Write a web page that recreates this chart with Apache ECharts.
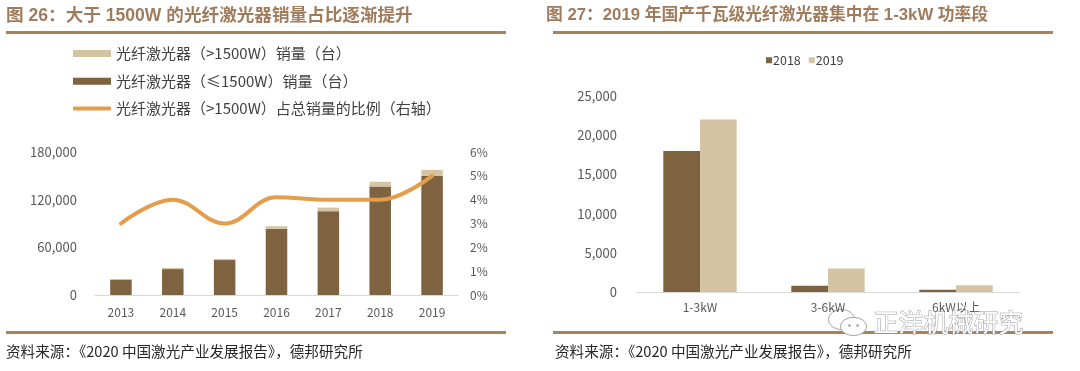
<!DOCTYPE html>
<html><head><meta charset="utf-8">
<script src="https://cdn.jsdelivr.net/npm/echarts@6/dist/echarts.min.js"></script>
<style>html,body{margin:0;padding:0;background:#fff}#c{width:1080px;height:371px}</style>
</head><body><div id="c"></div>
<script>
// Left chart data
const years = ['2013','2014','2015','2016','2017','2018','2019'];
const salesLow = [19400, 32600, 44000, 83200, 105500, 136500, 150000];   // ≤1500W
const salesHigh = [600, 1400, 1400, 3400, 4500, 6000, 7500];            // >1500W
const shareHigh = [3.0, 4.0, 3.0, 4.1, 4.0, 4.0, 5.0];                  // % right axis
// Right chart data
const powerBands = ['1-3kW', '3-6kW', '6kW以上'];
const kw2018 = [18000, 800, 300];
const kw2019 = [22000, 3000, 850];

const DARK = '#7f6240', LIGHT = '#d4c4a3', ORANGE = '#e49d4a', TITLE = '#a07b5c', RULE = '#a7825f';
const FONT = '"Noto Sans CJK SC", "Noto Sans", sans-serif';
const TFONT = '"Liberation Sans", "Noto Sans CJK SC", sans-serif';
const nameHigh = '光纤激光器（>1500W）销量（台）';
const nameLow = '光纤激光器（≤1500W）销量（台）';
const nameShare = '光纤激光器（>1500W）占总销量的比例（右轴）';

const chart = echarts.init(document.getElementById('c'), null, {renderer: 'canvas'});
const axisLabel = {color: '#595959', fontSize: 12, fontFamily: FONT};
const fmt = v => v.toLocaleString('en-US');
const legendText = {color: '#404040', fontSize: 15, lineHeight: 15, fontFamily: FONT};

chart.setOption({
  animation: false,
  textStyle: {fontFamily: FONT},
  title: [
    {text: '图 26：大于 1500W 的光纤激光器销量占比逐渐提升', left: 6, top: 7, padding: 0,
     textStyle: {color: TITLE, fontSize: 17.6, fontWeight: 'bold', fontFamily: TFONT}},
    {text: '图 27：2019 年国产千瓦级光纤激光器集中在 1-3kW 功率段', left: 546, top: 7, padding: 0,
     textStyle: {color: TITLE, fontSize: 16.75, fontWeight: 'bold', fontFamily: TFONT}},
    {text: '资料来源：《2020 中国激光产业发展报告》，德邦研究所', left: 6, top: 344, padding: 0,
     textStyle: {color: '#262626', fontSize: 14.6, fontWeight: 'normal', fontFamily: FONT}},
    {text: '资料来源：《2020 中国激光产业发展报告》，德邦研究所', left: 555, top: 344, padding: 0,
     textStyle: {color: '#262626', fontSize: 14.6, fontWeight: 'normal', fontFamily: FONT}}
  ],
  legend: [
    {orient: 'vertical', left: 73, top: 46, padding: 0, itemWidth: 38, itemHeight: 7, itemGap: 12.7,
     icon: 'rect', data: [nameHigh, nameLow], textStyle: legendText},
    {orient: 'vertical', left: 73, top: 101, padding: 0, itemWidth: 38, itemHeight: 4,
     data: [{name: nameShare, icon: 'roundRect'}], textStyle: legendText},
    {left: 766, top: 54, padding: 0, itemWidth: 6, itemHeight: 6, itemGap: 8, icon: 'rect',
     data: ['2018', '2019'],
     textStyle: {color: '#404040', fontSize: 12.5, fontFamily: FONT, padding: [0,0,0,-4]}}
  ],
  grid: [
    {left: 95, right: 622, top: 152, bottom: 76},
    {left: 636, right: 60, top: 96, bottom: 79}
  ],
  xAxis: [
    {type: 'category', gridIndex: 0, data: years,
     axisLine: {lineStyle: {color: '#d9d9d9'}}, axisTick: {show: false},
     axisLabel: Object.assign({}, axisLabel, {margin: 11})},
    {type: 'category', gridIndex: 1, data: powerBands,
     axisLine: {lineStyle: {color: '#d9d9d9'}}, axisTick: {show: false},
     axisLabel: Object.assign({}, axisLabel, {margin: 9})}
  ],
  yAxis: [
    {type: 'value', gridIndex: 0, min: 0, max: 180000, interval: 60000,
     splitLine: {show: false}, axisLine: {show: false}, axisTick: {show: false},
     axisLabel: Object.assign({}, axisLabel, {fontSize: 13, margin: 18, formatter: fmt})},
    {type: 'value', gridIndex: 0, min: 0, max: 6, interval: 1, position: 'right',
     splitLine: {show: false}, axisLine: {show: false}, axisTick: {show: false},
     axisLabel: Object.assign({}, axisLabel, {margin: 12, formatter: '{value}%'})},
    {type: 'value', gridIndex: 1, min: 0, max: 25000, interval: 5000,
     splitLine: {show: false}, axisLine: {show: false}, axisTick: {show: false},
     axisLabel: Object.assign({}, axisLabel, {fontSize: 13, margin: 19, formatter: fmt})}
  ],
  series: [
    {name: nameLow, type: 'bar', stack: 'a', xAxisIndex: 0, yAxisIndex: 0, data: salesLow,
     barWidth: 21.5, itemStyle: {color: DARK}},
    {name: nameHigh, type: 'bar', stack: 'a', xAxisIndex: 0, yAxisIndex: 0, data: salesHigh,
     barWidth: 21.5, itemStyle: {color: LIGHT}},
    {name: nameShare, type: 'line', xAxisIndex: 0, yAxisIndex: 1, data: shareHigh,
     smooth: 0.4, symbol: 'none', lineStyle: {color: ORANGE, width: 4, cap: 'round'},
     itemStyle: {color: ORANGE}},
    {name: '2018', type: 'bar', xAxisIndex: 1, yAxisIndex: 2, data: kw2018,
     barWidth: 36.7, barGap: '0%', itemStyle: {color: DARK}},
    {name: '2019', type: 'bar', xAxisIndex: 1, yAxisIndex: 2, data: kw2019,
     barWidth: 36.7, barGap: '0%', itemStyle: {color: LIGHT}}
  ],
  graphic: [
    {type: 'rect', left: 6, top: 31, shape: {width: 500, height: 3}, style: {fill: RULE}},
    {type: 'rect', left: 553, top: 31, shape: {width: 500, height: 3}, style: {fill: RULE}},
    {type: 'rect', left: 6, top: 331, shape: {width: 500, height: 3}, style: {fill: RULE}},
    {type: 'rect', left: 553, top: 331, shape: {width: 500, height: 3}, style: {fill: RULE}},
    {type: 'text', left: 873, top: 309, z: 100,
     style: {text: '正洋机械研究', fontSize: 25, fontFamily: FONT, fill: '#ffffff',
             stroke: '#9a9a9a', lineWidth: 1}},
    {type: 'group', left: 828, top: 309, z: 100, children: [
      {type: 'ellipse', shape: {cx: 14, cy: 10, rx: 13, ry: 10}, style: {fill: '#fff', stroke: '#a0a0a0', lineWidth: 1}},
      {type: 'ellipse', shape: {cx: 26, cy: 17, rx: 13, ry: 9}, style: {fill: '#fff', stroke: '#a0a0a0', lineWidth: 1}},
      {type: 'circle', shape: {cx: 22, cy: 16, r: 1.3}, style: {fill: '#a0a0a0'}},
      {type: 'circle', shape: {cx: 30, cy: 16, r: 1.3}, style: {fill: '#a0a0a0'}}
    ]}
  ]
});
</script></body></html>
